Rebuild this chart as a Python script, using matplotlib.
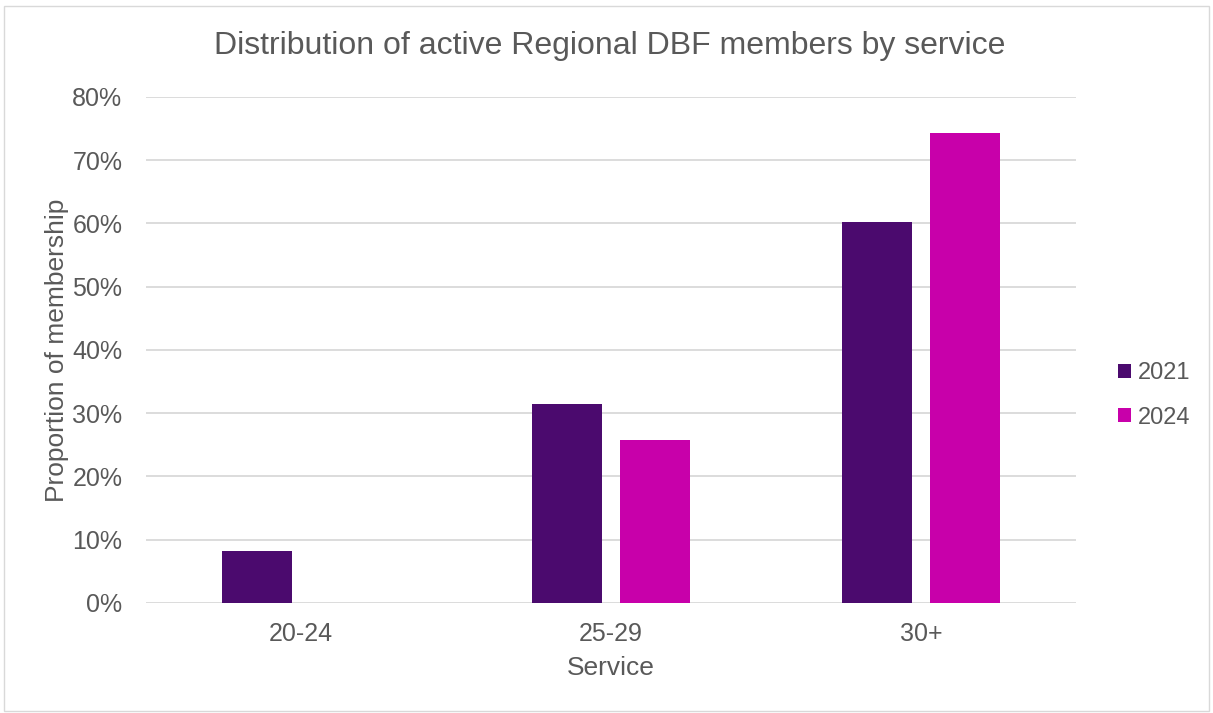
import numpy as np
import matplotlib.pyplot as plt
from matplotlib.patches import Rectangle

plt.rcParams['font.family'] = ['Liberation Sans', 'DejaVu Sans']

categories = ['20-24', '25-29', '30+']
years = ['2021', '2024']
share_2021 = [8.2, 31.4, 60.2]
share_2024 = [0.0, 25.8, 74.3]
colors = ['#4B0A6E', '#C800AA']
text_col = '#595959'

fig = plt.figure(figsize=(12.13, 7.13), dpi=100)
ax = fig.add_axes([0.1204, 0.1543, 0.7666, 0.7097])

x = np.arange(len(categories))
w = 0.226
off = 0.142
ax.bar(x - off, share_2021, w, color=colors[0], label=years[0], zorder=3)
ax.bar(x + off, share_2024, w, color=colors[1], label=years[1], zorder=3)

ax.set_xlim(-0.5, 2.5)
ax.set_ylim(0, 80)
ax.set_yticks(range(0, 81, 10))
ax.set_yticklabels([f'{v}%' for v in range(0, 81, 10)])
ax.set_xticks(x)
ax.set_xticklabels(categories)
ax.grid(axis='y', color='#D9D9D9', linewidth=1.3, zorder=0)
for s in ax.spines.values():
    s.set_visible(False)
ax.tick_params(length=0, labelsize=18, colors=text_col, pad=14)
ax.tick_params(axis='y', pad=17)

ax.set_xlabel('Service', fontsize=19, color=text_col, va='center')
ax.xaxis.set_label_coords(0.5, -0.128)
ax.set_ylabel('Proportion of membership', fontsize=19, color=text_col, va='center')
ax.yaxis.set_label_coords(-0.0957, 0.5)
fig.text(0.503, 0.935, 'Distribution of active Regional DBF members by service',
         ha='center', va='center', fontsize=23, color=text_col)

ax.legend(loc='center left', bbox_to_anchor=(1.022, 0.41), frameon=False,
          fontsize=17, labelcolor=text_col, handlelength=0.55, handleheight=0.55,
          handletextpad=0.3, labelspacing=0.95)

fig.add_artist(Rectangle((0.003, 0.003), 0.994, 0.988, transform=fig.transFigure,
                         fill=False, edgecolor='#D9D9D9', linewidth=1))

fig.savefig('out.png', dpi=100)
